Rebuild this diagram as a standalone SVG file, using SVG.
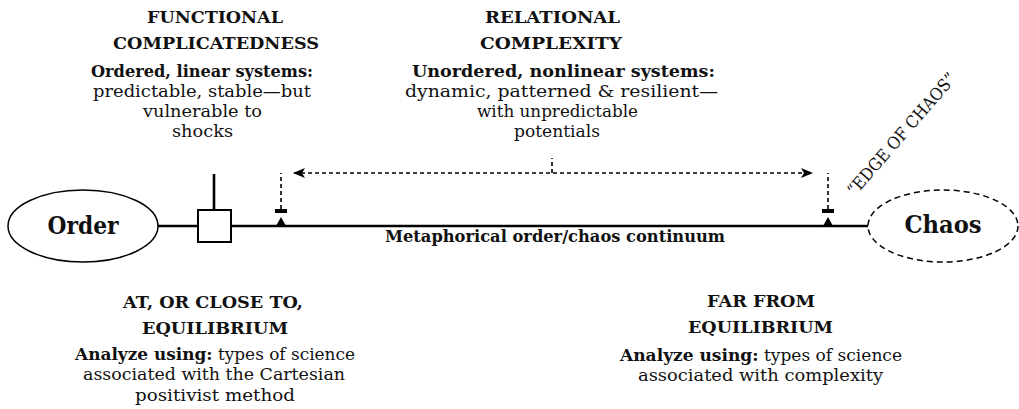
<svg xmlns="http://www.w3.org/2000/svg" width="1019" height="409" viewBox="0 0 1019 409">
  <style>
    text { font-family: "DejaVu Serif", "Liberation Serif", serif; fill: #111; text-anchor: middle; }
    .head { font-size: 17px; font-weight: bold; }
    .body { font-size: 16px; }
    .b { font-weight: bold; }
    .big { font-size: 24px; font-weight: bold; }
    .axis { stroke: #000; stroke-width: 2.6; fill: none; }
    .dash { stroke: #000; stroke-width: 1.6; stroke-dasharray: 4 3; fill: none; }
  </style>
  <defs>
    <marker id="arrow" viewBox="0 0 12 10" refX="11" refY="5" markerWidth="12" markerHeight="10" markerUnits="userSpaceOnUse" orient="auto-start-reverse">
      <path d="M0,0 L12,5 L0,10 L3,5 Z" fill="#000"/>
    </marker>
    <g id="tick">
      <rect x="-6" y="-17" width="12" height="4" fill="#000"/>
      <path d="M-5,0 L0,-9 L5,0 Z" fill="#000"/>
    </g>
  </defs>
  <rect width="1019" height="409" fill="#fff"/>

  <!-- connectors: the continuum axis and the complexity range -->
  <g id="connectors">
    <line class="axis" x1="158" y1="226" x2="198" y2="226"/>
    <line class="axis" x1="231" y1="226" x2="868" y2="226"/>
    <line class="axis" x1="214" y1="174" x2="214" y2="210"/>
    <line class="dash" x1="281" y1="209" x2="281" y2="173"/>
    <line class="dash" x1="828" y1="209" x2="828" y2="173"/>
    <line class="dash" x1="552" y1="173" x2="552" y2="158"/>
    <line class="dash" x1="294" y1="173" x2="812" y2="173" marker-start="url(#arrow)" marker-end="url(#arrow)"/>
    <use href="#tick" x="281" y="226"/>
    <use href="#tick" x="828" y="226"/>
  </g>

  <g id="order">
    <ellipse cx="83" cy="226" rx="75" ry="36" fill="#fff" stroke="#000" stroke-width="1.5"/>
    <text class="big" x="83" y="234" textLength="71" lengthAdjust="spacingAndGlyphs">Order</text>
  </g>

  <g id="equilibrium-marker">
    <rect x="198" y="210" width="33" height="32" fill="#fff" stroke="#000" stroke-width="2"/>
  </g>

  <g id="chaos">
    <ellipse cx="943" cy="226" rx="75" ry="36" fill="#fff" stroke="#000" stroke-width="1.5" stroke-dasharray="6 4"/>
    <text class="big" x="943" y="233" textLength="77" lengthAdjust="spacingAndGlyphs">Chaos</text>
  </g>

  <g id="edge-of-chaos">
    <text font-size="17" transform="translate(906,138) rotate(-49)" textLength="156" lengthAdjust="spacingAndGlyphs">“EDGE OF CHAOS”</text>
  </g>

  <g id="axis-label">
    <text class="b" x="555" y="242" font-size="16" textLength="340" lengthAdjust="spacingAndGlyphs">Metaphorical order/chaos continuum</text>
  </g>

  <g id="functional-complicatedness">
    <text class="head" x="215" y="23" textLength="136" lengthAdjust="spacingAndGlyphs">FUNCTIONAL</text>
    <text class="head" x="216" y="49" textLength="206" lengthAdjust="spacingAndGlyphs">COMPLICATEDNESS</text>
    <text class="body b" x="202" y="77" textLength="222" lengthAdjust="spacingAndGlyphs">Ordered, linear systems:</text>
    <text class="body" x="202" y="97" textLength="218" lengthAdjust="spacingAndGlyphs">predictable, stable—but</text>
    <text class="body" x="202.5" y="117" textLength="119" lengthAdjust="spacingAndGlyphs">vulnerable to</text>
    <text class="body" x="202.5" y="137" textLength="61" lengthAdjust="spacingAndGlyphs">shocks</text>
  </g>

  <g id="relational-complexity">
    <text class="head" x="552.5" y="23" textLength="135" lengthAdjust="spacingAndGlyphs">RELATIONAL</text>
    <text class="head" x="551" y="49" textLength="142" lengthAdjust="spacingAndGlyphs">COMPLEXITY</text>
    <text class="body b" x="563.5" y="77" textLength="303" lengthAdjust="spacingAndGlyphs">Unordered, nonlinear systems:</text>
    <text class="body" x="561.5" y="97" textLength="313" lengthAdjust="spacingAndGlyphs">dynamic, patterned &amp; resilient—</text>
    <text class="body" x="557.5" y="117" textLength="161" lengthAdjust="spacingAndGlyphs">with unpredictable</text>
    <text class="body" x="557" y="137" textLength="86" lengthAdjust="spacingAndGlyphs">potentials</text>
  </g>

  <g id="near-equilibrium">
    <text class="head" x="213" y="308" textLength="180" lengthAdjust="spacingAndGlyphs">AT, OR CLOSE TO,</text>
    <text class="head" x="215" y="334" textLength="146" lengthAdjust="spacingAndGlyphs">EQUILIBRIUM</text>
    <text class="body" x="215" y="360" textLength="280" lengthAdjust="spacingAndGlyphs"><tspan class="b">Analyze using:</tspan> types of science</text>
    <text class="body" x="214" y="380" textLength="262" lengthAdjust="spacingAndGlyphs">associated with the Cartesian</text>
    <text class="body" x="215" y="401" textLength="160" lengthAdjust="spacingAndGlyphs">positivist method</text>
  </g>

  <g id="far-from-equilibrium">
    <text class="head" x="761" y="307" textLength="108" lengthAdjust="spacingAndGlyphs">FAR FROM</text>
    <text class="head" x="760.5" y="333" textLength="145" lengthAdjust="spacingAndGlyphs">EQUILIBRIUM</text>
    <text class="body" x="761" y="361" textLength="282" lengthAdjust="spacingAndGlyphs"><tspan class="b">Analyze using:</tspan> types of science</text>
    <text class="body" x="760.5" y="381" textLength="245" lengthAdjust="spacingAndGlyphs">associated with complexity</text>
  </g>
</svg>
